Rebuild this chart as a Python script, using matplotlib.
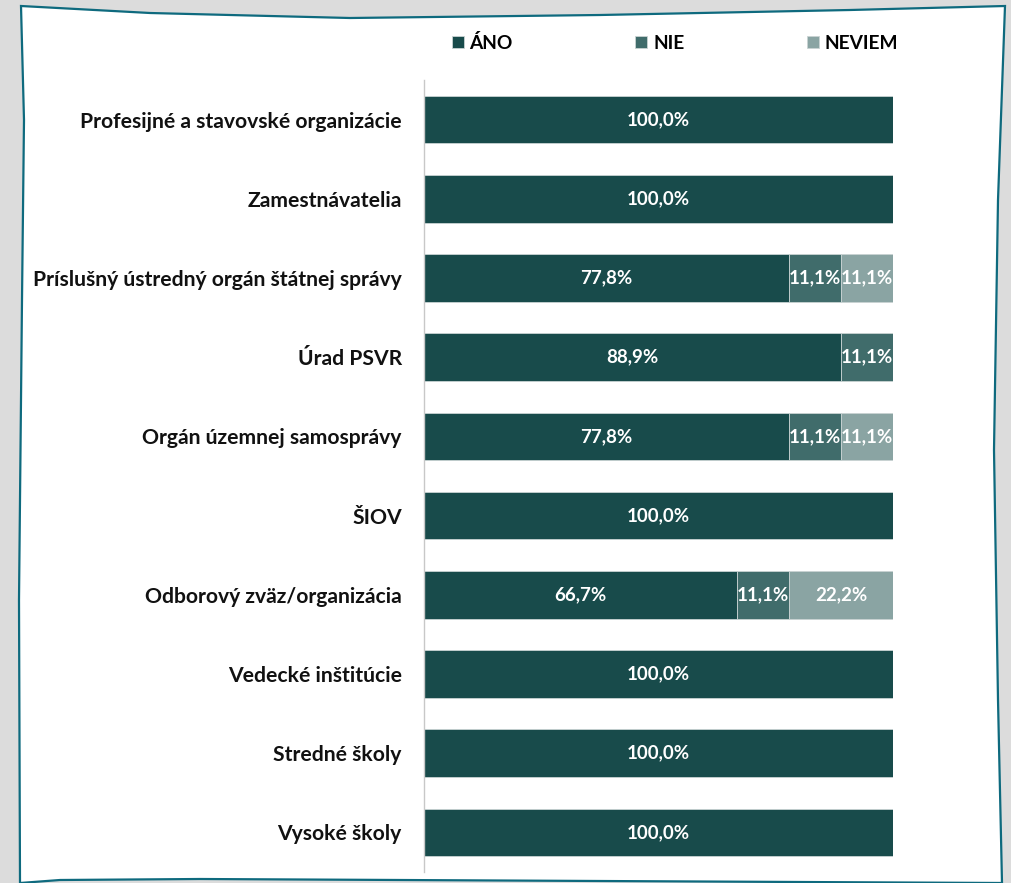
import matplotlib
matplotlib.use("Agg")
import matplotlib.pyplot as plt
from matplotlib.patches import Polygon

plt.rcParams['font.family'] = ['Lato', 'DejaVu Sans']

categories = ["Profesijné a stavovské organizácie", "Zamestnávatelia",
              "Príslušný ústredný orgán štátnej správy", "Úrad PSVR",
              "Orgán územnej samosprávy", "ŠIOV", "Odborový zväz/organizácia",
              "Vedecké inštitúcie", "Stredné školy", "Vysoké školy"]
ano = [100.0, 100.0, 77.8, 88.9, 77.8, 100.0, 66.7, 100.0, 100.0, 100.0]
nie = [0.0, 0.0, 11.1, 11.1, 11.1, 0.0, 11.1, 0.0, 0.0, 0.0]
neviem = [0.0, 0.0, 11.1, 0.0, 11.1, 0.0, 22.2, 0.0, 0.0, 0.0]
series = ["ÁNO", "NIE", "NEVIEM"]
colors = ["#184B4B", "#406C6B", "#8AA4A3"]

W, H = 1012, 883
fig = plt.figure(figsize=(W / 100, H / 100), dpi=100)
fig.patch.set_facecolor("#DCDCDC")

# card with slightly skewed border
card = [(21, 6), (150, 13), (350, 18), (600, 15), (850, 10), (1005, 6),
        (998, 200), (994, 450), (998, 700), (1002, 883),
        (600, 881), (200, 879), (60, 880), (20, 883),
        (19, 600), (22, 300), (24, 120)]
card = [(x / W, 1 - y / H) for x, y in card]
fig.patches.append(Polygon(card, closed=True, transform=fig.transFigure,
                           facecolor="white", edgecolor="#0E6A7E", lw=1.6,
                           zorder=-5))

ax = fig.add_axes([424 / W, 1 - 872 / H, 469 / W, 792 / H])
ax.set_facecolor("none")
ax.set_zorder(2)

y = range(len(categories))
left = [0.0] * len(categories)
for name, vals, col in zip(series, [ano, nie, neviem], colors):
    ax.barh(y, vals, left=left, height=0.6, color=col, edgecolor="#C9D3D3",
            linewidth=0.6, label=name)
    for i, v in enumerate(vals):
        if v > 0:
            ax.text(left[i] + v / 2, i, f"{v:.1f}%".replace(".", ","),
                    ha="center", va="center", color="white",
                    fontsize=13.5, fontweight="bold")
    left = [a + b for a, b in zip(left, vals)]

ax.set_xlim(0, 100)
ax.set_ylim(len(categories) - 0.5, -0.5)
ax.set_yticks(list(y))
ax.set_yticklabels(categories, fontsize=15.2, fontweight="bold", color="#111111")
ax.tick_params(axis="y", length=0, pad=16)
ax.set_xticks([])
for s in ["top", "right", "bottom"]:
    ax.spines[s].set_visible(False)
ax.spines["left"].set_color("#C8C8C8")
ax.spines["left"].set_linewidth(1.0)

leg = ax.legend(loc="center", bbox_to_anchor=(675 / W, 1 - 43 / H),
                bbox_transform=fig.transFigure, ncol=3, frameon=False,
                prop={"weight": "bold", "size": 13.8}, handlelength=0.62,
                handleheight=0.62, columnspacing=6.4, handletextpad=0.3)

fig.savefig("out.png", dpi=100, facecolor=fig.get_facecolor())
